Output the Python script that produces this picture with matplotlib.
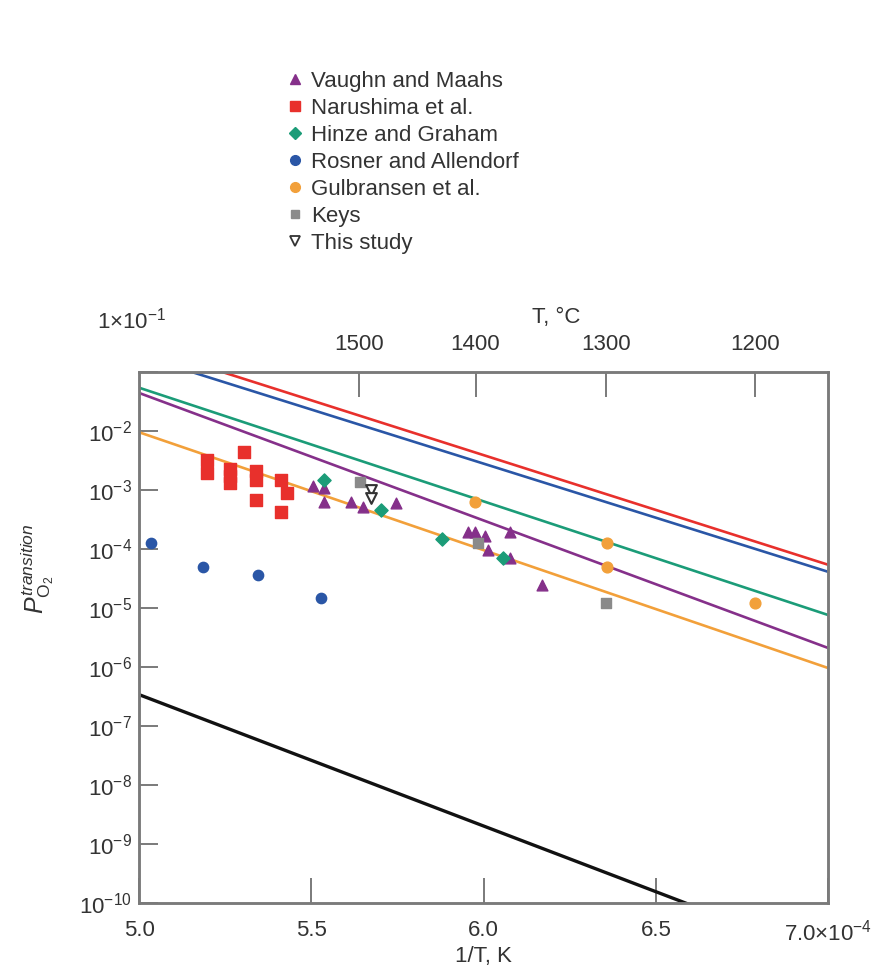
import numpy as np
import matplotlib
matplotlib.use('Agg')
import matplotlib.pyplot as plt
from matplotlib.lines import Line2D

plt.rcParams['font.family'] = ['Liberation Sans', 'DejaVu Sans']
plt.rcParams['mathtext.fontset'] = 'custom'
plt.rcParams['mathtext.rm'] = 'Liberation Sans'
plt.rcParams['mathtext.it'] = 'Liberation Sans:italic'
plt.rcParams['mathtext.bf'] = 'Liberation Sans:bold'

# ---- data (1/T in units of 1e-4 K^-1, pO2 transition) ----
vaughn_x = [5.506, 5.537, 5.537, 5.615, 5.649, 5.745, 5.956, 5.975, 6.004, 6.014, 6.077, 6.077, 6.169]
vaughn_y = [1.17e-3, 1.07e-3, 6.3e-4, 6.3e-4, 5.2e-4, 5.9e-4, 1.9e-4, 1.9e-4, 1.66e-4, 9.6e-5, 1.9e-4, 6.9e-5, 2.45e-5]

narushima_x = [5.198, 5.198, 5.305, 5.264, 5.264, 5.264, 5.339, 5.339, 5.339, 5.411, 5.429, 5.411]
narushima_y = [3.2e-3, 1.96e-3, 4.4e-3, 2.3e-3, 1.7e-3, 1.3e-3, 2.1e-3, 1.5e-3, 6.8e-4, 1.5e-3, 8.7e-4, 4.3e-4]

hinze_x = [5.537, 5.702, 5.879, 6.057]
hinze_y = [1.5e-3, 4.6e-4, 1.45e-4, 6.9e-5]

rosner_x = [5.034, 5.187, 5.345, 5.528]
rosner_y = [1.26e-4, 5.0e-5, 3.6e-5, 1.45e-5]

gulbransen_x = [5.975, 6.358, 6.358, 6.788]
gulbransen_y = [6.3e-4, 1.26e-4, 5.0e-5, 1.23e-5]

keys_x = [5.640, 5.984, 6.356]
keys_y = [1.38e-3, 1.26e-4, 1.23e-5]

study_x = [5.673, 5.673]
study_y = [1.0e-3, 7.2e-4]

# fitted lines: pO2 at 1/T = 5.0 and 7.0 (x1e-4)
line_x = [5.0, 7.0]
line_red = [0.28, 5.4e-5]
line_blue = [0.19, 4.1e-5]
line_green = [0.054, 7.6e-6]
line_purple = [0.044, 2.1e-6]
line_orange = [0.0095, 9.6e-7]
line_black = [3.4e-7, 1.2e-11]

top_T = [1500, 1400, 1300, 1200]
x_ticks = [5.0, 5.5, 6.0, 6.5, 7.0]
x_ticklabels = ['5.0', '5.5', '6.0', '6.5', r'7.0$\times$10$^{-4}$']
y_exp = list(range(-10, 0))

# colours
c_red = '#e8302c'
c_blue = '#2a56a6'
c_green = '#1b9c78'
c_purple = '#85308a'
c_orange = '#f2a03a'
c_grey = '#8a8a8a'
spine_c = '#7a7a7a'
txt_c = '#333333'

fig = plt.figure(figsize=(8.8, 9.71), dpi=100)
ax = fig.add_axes([0.158, 0.070, 0.783, 0.547])

lw = 1.9
ax.plot(line_x, line_red, color=c_red, lw=lw)
ax.plot(line_x, line_blue, color=c_blue, lw=lw)
ax.plot(line_x, line_green, color=c_green, lw=lw)
ax.plot(line_x, line_purple, color=c_purple, lw=lw)
ax.plot(line_x, line_orange, color=c_orange, lw=lw)
ax.plot(line_x, line_black, color='#111111', lw=2.4)

ax.scatter(rosner_x, rosner_y, marker='o', s=55, color=c_blue, zorder=3)
ax.scatter(narushima_x, narushima_y, marker='s', s=65, color=c_red, zorder=3)
ax.scatter(gulbransen_x, gulbransen_y, marker='o', s=60, color=c_orange, zorder=3)
ax.scatter(vaughn_x, vaughn_y, marker='^', s=60, color=c_purple, zorder=4)
ax.scatter(hinze_x, hinze_y, marker='D', s=45, color=c_green, zorder=4)
ax.scatter(keys_x, keys_y, marker='s', s=50, color=c_grey, zorder=4)
ax.scatter(study_x, study_y, marker='v', s=60, facecolor='white', edgecolor='#333333', linewidth=1.5, zorder=5)

ax.set_yscale('log')
ax.set_xlim(5.0, 7.0)
ax.set_ylim(1e-10, 1e-1)

ax.set_xticks(x_ticks)
ax.set_xticklabels(x_ticklabels)
yt = [10.0 ** e for e in y_exp]
ax.set_yticks(yt)
ax.set_yticklabels([r'$10^{%d}$' % e if e < -1 else '' for e in y_exp])
ax.minorticks_off()
ax.tick_params(axis='x', direction='in', length=18, width=1.4, color=spine_c,
               labelsize=16, labelcolor=txt_c, pad=12)
ax.tick_params(axis='y', direction='in', length=14, width=1.4, color=spine_c,
               labelsize=16, labelcolor=txt_c, pad=5)
for sp in ax.spines.values():
    sp.set_color(spine_c)
    sp.set_linewidth(1.8)

ax.set_xlabel('1/T, K', fontsize=16, color=txt_c, labelpad=0)
ax.set_ylabel(r'$P_{\mathrm{O}_2}^{transition}$', fontsize=18, color=txt_c)
ax.yaxis.set_label_coords(-0.12, 0.63)

# top axis in degrees C
ax2 = ax.twiny()
ax2.set_xlim(ax.get_xlim())
ax2.set_xticks([1e4 / (t + 273.15) for t in top_T])
ax2.set_xticklabels([str(t) for t in top_T])
ax2.tick_params(axis='x', direction='in', length=18, width=1.4, color=spine_c,
                labelsize=16, labelcolor=txt_c, pad=12)
ax2.minorticks_off()
for sp in ax2.spines.values():
    sp.set_color(spine_c)
    sp.set_linewidth(1.8)
ax2.set_xlabel('T, °C', fontsize=16, color=txt_c, labelpad=8)
ax2.xaxis.label.set_x(0.605)

fig.text(0.149, 0.670, r'1$\times$10$^{-1}$', fontsize=16, color=txt_c,
         ha='center', va='center')

handles = [
    Line2D([], [], ls='', marker='^', ms=7, color=c_purple),
    Line2D([], [], ls='', marker='s', ms=7, color=c_red),
    Line2D([], [], ls='', marker='D', ms=6, color=c_green),
    Line2D([], [], ls='', marker='o', ms=7, color=c_blue),
    Line2D([], [], ls='', marker='o', ms=7, color=c_orange),
    Line2D([], [], ls='', marker='s', ms=6, color=c_grey),
    Line2D([], [], ls='', marker='v', ms=7, markerfacecolor='white',
           markeredgecolor='#333333', markeredgewidth=1.3),
]
labels = ['Vaughn and Maahs', 'Narushima et al.', 'Hinze and Graham',
          'Rosner and Allendorf', 'Gulbransen et al.', 'Keys', 'This study']
fig.legend(handles, labels, loc='upper left', bbox_to_anchor=(0.318, 0.936),
           frameon=False, fontsize=16, handlelength=0.6, handletextpad=0.4,
           labelspacing=0.27, borderaxespad=0, labelcolor=txt_c)

fig.savefig('out.png', dpi=100)
